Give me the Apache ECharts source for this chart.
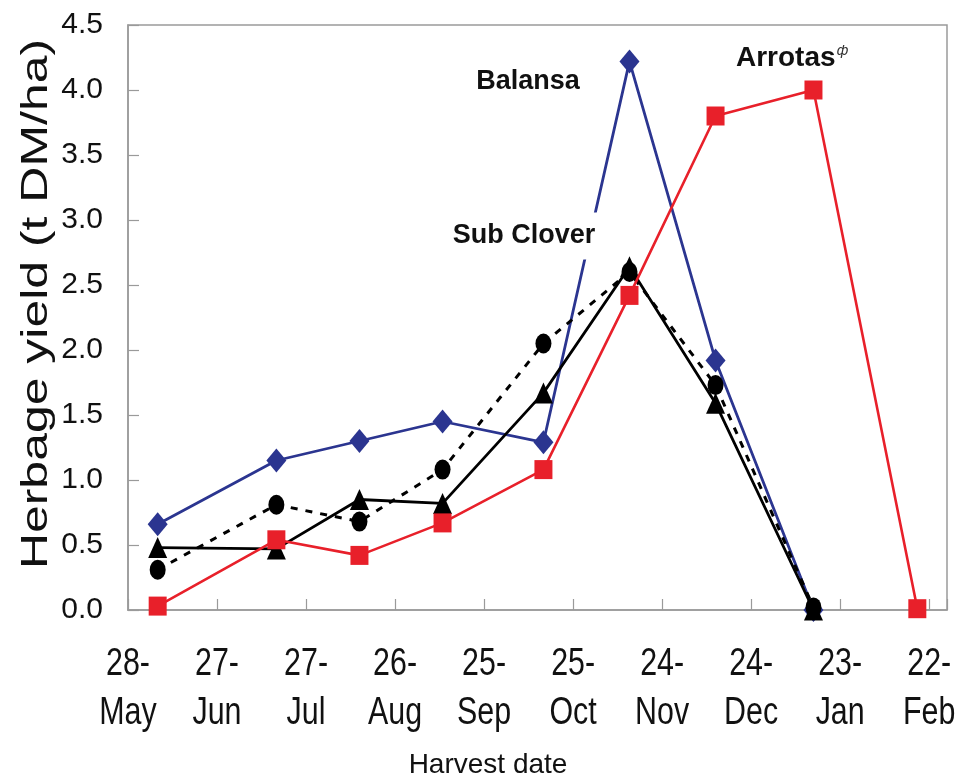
<!DOCTYPE html>
<html>
<head>
<meta charset="utf-8">
<script src="https://cdn.jsdelivr.net/npm/echarts@6/dist/echarts.min.js"></script>
<style>
  html, body { margin: 0; padding: 0; background: #fff; }
  #chart { width: 971px; height: 780px; }
</style>
</head>
<body>
<div id="chart"></div>
<script>
// harvest dates as days after 28-May
const tickLabels = ['28-May', '27-Jun', '27-Jul', '26-Aug', '25-Sep', '25-Oct', '24-Nov', '24-Dec', '23-Jan', '22-Feb']
const harvestDays = [10, 50, 78, 106, 140, 169, 198, 231, 266]

const arrotas = [0.03, 0.54, 0.42, 0.67, 1.08, 2.42, 3.80, 4.00, 0.01]
const balansa = [0.66, 1.15, 1.30, 1.45, 1.29, 4.22, 1.92, 0.00]
const subClover = [0.48, 0.47, 0.85, 0.82, 1.67, 2.64, 1.59, 0.00]
const subCloverDashed = [0.31, 0.81, 0.68, 1.08, 2.05, 2.60, 1.73, 0.02]

const pairs = (vals) => vals.map((v, i) => [harvestDays[i], v])

const axisGrey = '#9a9a9a'
const chart = echarts.init(document.getElementById('chart'))

chart.setOption({
  animation: false,
  grid: {
    left: 128, right: 24, top: 25, bottom: 170,
    show: true, borderColor: axisGrey, borderWidth: 1.5,
  },
  xAxis: {
    type: 'value',
    min: 0, max: 276, interval: 30,
    splitLine: { show: false },
    axisLine: { lineStyle: { color: axisGrey, width: 1.5 } },
    axisTick: { inside: true, length: 11, lineStyle: { color: axisGrey, width: 1.2 } },
    // tick labels are drawn below as narrow graphic texts
    axisLabel: { show: false },
  },
  yAxis: {
    type: 'value',
    min: 0, max: 4.5, interval: 0.5,
    splitLine: { show: false },
    axisLine: { show: true, lineStyle: { color: axisGrey, width: 1.5 } },
    axisTick: { show: true, inside: true, length: 11, lineStyle: { color: axisGrey, width: 1.2 } },
    axisLabel: {
      margin: 25,
      color: '#111',
      fontFamily: '"Liberation Sans", Arial',
      fontSize: 30,
      formatter: (v) => v.toFixed(1),
    },
  },
  series: [
    {
      name: 'Balansa', type: 'line', data: pairs(balansa), z: 2,
      symbol: 'diamond', symbolSize: [20, 24],
      lineStyle: { color: '#2b3590', width: 2.8 },
      itemStyle: { color: '#2b3590' },
    },
    {
      name: 'Sub Clover (dashed)', type: 'line', data: pairs(subCloverDashed), z: 3,
      symbol: 'circle', symbolSize: [16, 20],
      lineStyle: { color: '#000', width: 3, type: [7, 8] },
      itemStyle: { color: '#000' },
    },
    {
      name: 'Sub Clover', type: 'line', data: pairs(subClover), z: 4,
      symbol: 'triangle', symbolSize: [19, 21],
      lineStyle: { color: '#000', width: 2.8 },
      itemStyle: { color: '#000' },
    },
    {
      name: 'Arrotas', type: 'line', data: pairs(arrotas), z: 5,
      symbol: 'rect', symbolSize: [18, 19],
      lineStyle: { color: '#e8202a', width: 2.6 },
      itemStyle: { color: '#e8202a' },
    },
  ],
})

// narrow two-line date labels, placed at the axis' own tick positions
const axisY = chart.convertToPixel({ yAxisIndex: 0 }, 0)
const tickTexts = tickLabels.map((s, i) => ({
  type: 'text',
  x: chart.convertToPixel({ xAxisIndex: 0 }, i * 30),
  y: axisY + 30,
  scaleX: 0.8,
  z: 10,
  style: {
    text: s.replace('-', '-\n'), fill: '#111',
    font: '38px "Liberation Sans", Arial', lineHeight: 49,
    align: 'center', verticalAlign: 'top',
  },
}))

chart.setOption({
  graphic: [
    {
      type: 'text', x: 37, y: 304, rotation: Math.PI / 2, scaleX: 1.35, z: 10,
      style: {
        text: 'Herbage yield (t DM/ha)', fill: '#111',
        font: '37px "Liberation Sans", Arial', align: 'center', verticalAlign: 'middle',
      },
    },
    {
      type: 'text', x: 488, y: 765, z: 10,
      style: {
        text: 'Harvest date', fill: '#111',
        font: '28px "Liberation Sans", Arial', align: 'center', verticalAlign: 'middle',
      },
    },
    {
      type: 'text', x: 528, y: 82, z: 100,
      style: {
        text: 'Balansa', fill: '#111',
        font: 'bold 27px "Liberation Sans", Arial', align: 'center', verticalAlign: 'middle',
      },
    },
    {
      type: 'text', x: 527, y: 236, z: 100,
      style: {
        text: 'Sub Clover', fill: '#111', backgroundColor: '#fff', padding: [10, 10, 10, 4],
        font: 'bold 27px "Liberation Sans", Arial', align: 'center', verticalAlign: 'middle',
      },
    },
    {
      type: 'text', x: 736, y: 58, z: 100,
      style: {
        text: '{a|Arrotas}{s|ф}',
        align: 'left', verticalAlign: 'middle',
        rich: {
          a: { font: 'bold 28px "Liberation Sans", Arial', fill: '#111' },
          s: { font: 'italic 14px "DejaVu Sans", Arial', fill: '#333', verticalAlign: 'top', padding: [0, 0, 14, 1] },
        },
      },
    },
    ...tickTexts,
  ],
})
</script>
</body>
</html>
